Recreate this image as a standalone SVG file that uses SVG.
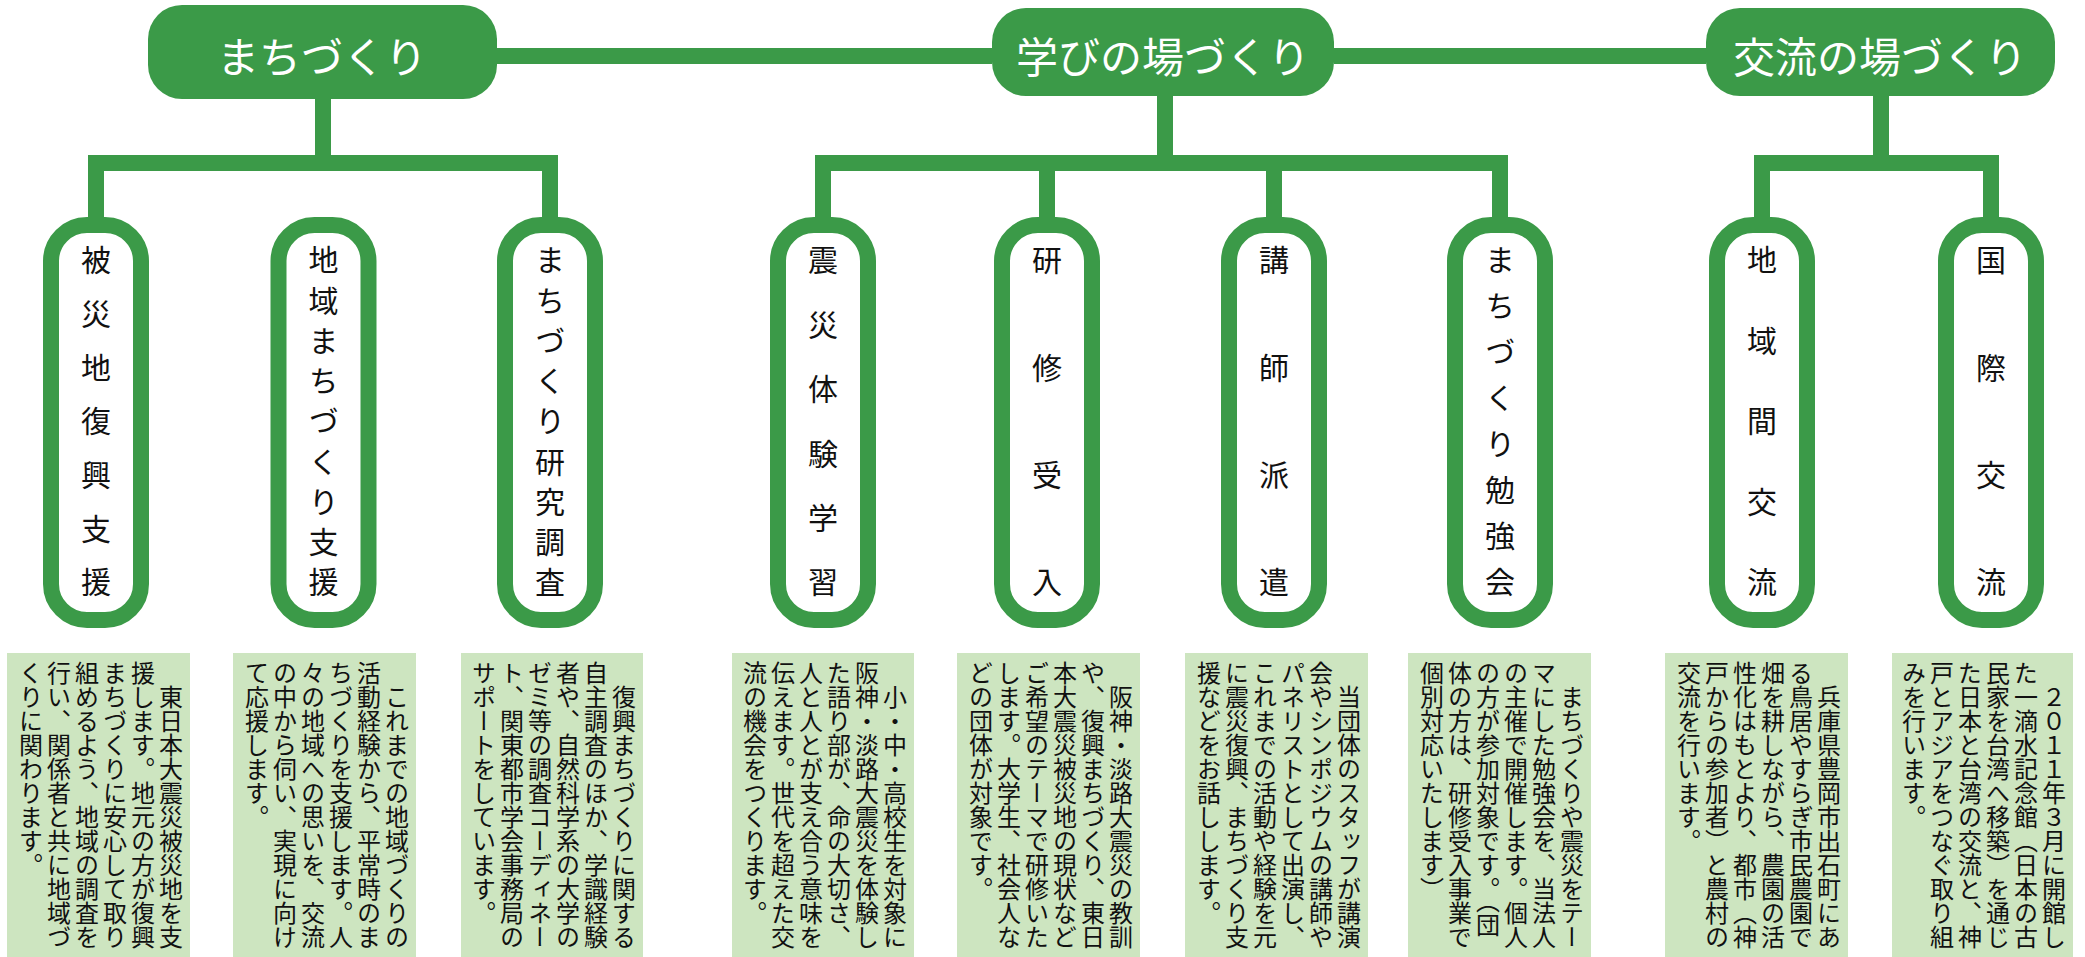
<svg xmlns="http://www.w3.org/2000/svg" width="2085" height="957" viewBox="0 0 2085 957">
<style>
.top rect{fill:#3b9a48}
.top text{fill:#fff;font-family:"Noto Sans CJK JP","Noto Sans",sans-serif;font-size:42px;text-anchor:middle;dominant-baseline:central}
.conn{fill:none;stroke:#3b9a48;stroke-width:16;stroke-linejoin:miter;stroke-linecap:butt}
.node rect{fill:#fff;stroke:#3b9a48;stroke-width:16}
.node text{fill:#111;font-family:"Noto Sans CJK JP","Noto Sans",sans-serif;font-size:30px;writing-mode:vertical-rl}
.desc rect{fill:#cde5c0}
.desc text{fill:#111;font-family:"Noto Sans CJK JP","Noto Sans",sans-serif;font-size:24px;writing-mode:vertical-rl}
</style>
<g id="connectors">
<path class="conn" d="M497,56 H992 M1334,56 H1706"/>
<path class="conn" d="M96,225 V163 H550 V225 M323,99 V163"/>
<path class="conn" d="M823,225 V163 H1500 V225 M1047,163 V225 M1274,163 V225 M1165,96 V163"/>
<path class="conn" d="M1762,225 V163 H1991 V225 M1881,96 V163"/>
</g>
<g id="top-machizukuri" class="top"><rect x="148" y="5" width="349" height="94" rx="34"/><text x="322" y="54">まちづくり</text></g>
<g id="top-manabi" class="top"><rect x="992" y="8" width="342" height="88" rx="34"/><text x="1163" y="54">学びの場づくり</text></g>
<g id="top-koryu" class="top"><rect x="1706" y="8" width="349" height="88" rx="34"/><text x="1880" y="54">交流の場づくり</text></g>

<g id="node1" class="node"><rect x="51" y="225" width="90" height="395" rx="36"/><text x="96" y="245" style="letter-spacing:23.67px">被災地復興支援</text></g>
<g id="node2" class="node"><rect x="278.5" y="225" width="90" height="395" rx="36"/><text x="323.5" y="245" style="letter-spacing:10.25px">地域まちづくり支援</text></g>
<g id="node3" class="node"><rect x="505" y="225" width="90" height="395" rx="36"/><text x="550" y="245" style="letter-spacing:10.25px">まちづくり研究調査</text></g>
<g id="node4" class="node"><rect x="778" y="225" width="90" height="395" rx="36"/><text x="823" y="245" style="letter-spacing:34.4px">震災体験学習</text></g>
<g id="node5" class="node"><rect x="1002" y="225" width="90" height="395" rx="36"/><text x="1047" y="245" style="letter-spacing:77.3px">研修受入</text></g>
<g id="node6" class="node"><rect x="1229" y="225" width="90" height="395" rx="36"/><text x="1274" y="245" style="letter-spacing:77.3px">講師派遣</text></g>
<g id="node7" class="node"><rect x="1455" y="225" width="90" height="395" rx="36"/><text x="1500" y="245" style="letter-spacing:16px">まちづくり勉強会</text></g>
<g id="node8" class="node"><rect x="1717" y="225" width="90" height="395" rx="36"/><text x="1762" y="245" style="letter-spacing:50.5px">地域間交流</text></g>
<g id="node9" class="node"><rect x="1946" y="225" width="90" height="395" rx="36"/><text x="1991" y="245" style="letter-spacing:77.3px">国際交流</text></g>

<g id="desc1" class="desc"><rect x="7" y="653" width="183" height="310"/><text><tspan x="171" y="661">　東日本大震災被災地を支</tspan><tspan x="143" y="661">援します。地元の方が復興</tspan><tspan x="115" y="661">まちづくりに安心して取り</tspan><tspan x="87" y="661">組めるよう、地域の調査を</tspan><tspan x="59" y="661">行い、関係者と共に地域づ</tspan><tspan x="31" y="661">くりに関わります。</tspan></text></g>
<g id="desc2" class="desc"><rect x="233" y="653" width="183" height="310"/><text><tspan x="397" y="661">　これまでの地域づくりの</tspan><tspan x="369" y="661">活動経験から、平常時のま</tspan><tspan x="341" y="661">ちづくりを支援します。人</tspan><tspan x="313" y="661">々の地域への思いを、交流</tspan><tspan x="285" y="661">の中から伺い、実現に向け</tspan><tspan x="257" y="661">て応援します。</tspan></text></g>
<g id="desc3" class="desc"><rect x="461" y="653" width="182" height="310"/><text><tspan x="624" y="661">　復興まちづくりに関する</tspan><tspan x="596" y="661">自主調査のほか、学識経験</tspan><tspan x="568" y="661">者や、自然科学系の大学の</tspan><tspan x="540" y="661">ゼミ等の調査コーディネー</tspan><tspan x="512" y="661">ト、関東都市学会事務局の</tspan><tspan x="484" y="661">サポートをしています。</tspan></text></g>
<g id="desc4" class="desc"><rect x="732" y="653" width="182" height="310"/><text><tspan x="895" y="661">　小・中・高校生を対象に</tspan><tspan x="867" y="661">阪神・淡路大震災を体験し</tspan><tspan x="839" y="661">た語り部が、命の大切さ、</tspan><tspan x="811" y="661">人と人とが支え合う意味を</tspan><tspan x="783" y="661">伝えます。世代を超えた交</tspan><tspan x="755" y="661">流の機会をつくります。</tspan></text></g>
<g id="desc5" class="desc"><rect x="957" y="653" width="183" height="310"/><text><tspan x="1121" y="661">　阪神・淡路大震災の教訓</tspan><tspan x="1093" y="661">や、復興まちづくり、東日</tspan><tspan x="1065" y="661">本大震災被災地の現状など</tspan><tspan x="1037" y="661">ご希望のテーマで研修いた</tspan><tspan x="1009" y="661">します。大学生、社会人な</tspan><tspan x="981" y="661">どの団体が対象です。</tspan></text></g>
<g id="desc6" class="desc"><rect x="1185" y="653" width="183" height="310"/><text><tspan x="1349" y="661">　当団体のスタッフが講演</tspan><tspan x="1321" y="661">会やシンポジウムの講師や</tspan><tspan x="1293" y="661">パネリストとして出演し、</tspan><tspan x="1265" y="661">これまでの活動や経験を元</tspan><tspan x="1237" y="661">に震災復興、まちづくり支</tspan><tspan x="1209" y="661">援などをお話しします。</tspan></text></g>
<g id="desc7" class="desc"><rect x="1408" y="653" width="183" height="310"/><text><tspan x="1572" y="661">　まちづくりや震災をテー</tspan><tspan x="1544" y="661">マにした勉強会を、当法人</tspan><tspan x="1516" y="661">の主催で開催します。個人</tspan><tspan x="1488" y="661">の方が参加対象です。（団</tspan><tspan x="1460" y="661">体の方は、研修受入事業で</tspan><tspan x="1432" y="661">個別対応いたします）</tspan></text></g>
<g id="desc8" class="desc"><rect x="1665" y="653" width="183" height="310"/><text><tspan x="1829" y="661">　兵庫県豊岡市出石町にあ</tspan><tspan x="1801" y="661">る鳥居やすらぎ市民農園で</tspan><tspan x="1773" y="661">畑を耕しながら、農園の活</tspan><tspan x="1745" y="661">性化はもとより、都市（神</tspan><tspan x="1717" y="661">戸からの参加者）と農村の</tspan><tspan x="1689" y="661">交流を行います。</tspan></text></g>
<g id="desc9" class="desc"><rect x="1892" y="653" width="181" height="310"/><text><tspan x="2054" y="661">　２０１１年３月に開館し</tspan><tspan x="2026" y="661">た一滴水記念館（日本の古</tspan><tspan x="1998" y="661">民家を台湾へ移築）を通じ</tspan><tspan x="1970" y="661">た日本と台湾の交流と、神</tspan><tspan x="1942" y="661">戸とアジアをつなぐ取り組</tspan><tspan x="1914" y="661">みを行います。</tspan></text></g>
</svg>
